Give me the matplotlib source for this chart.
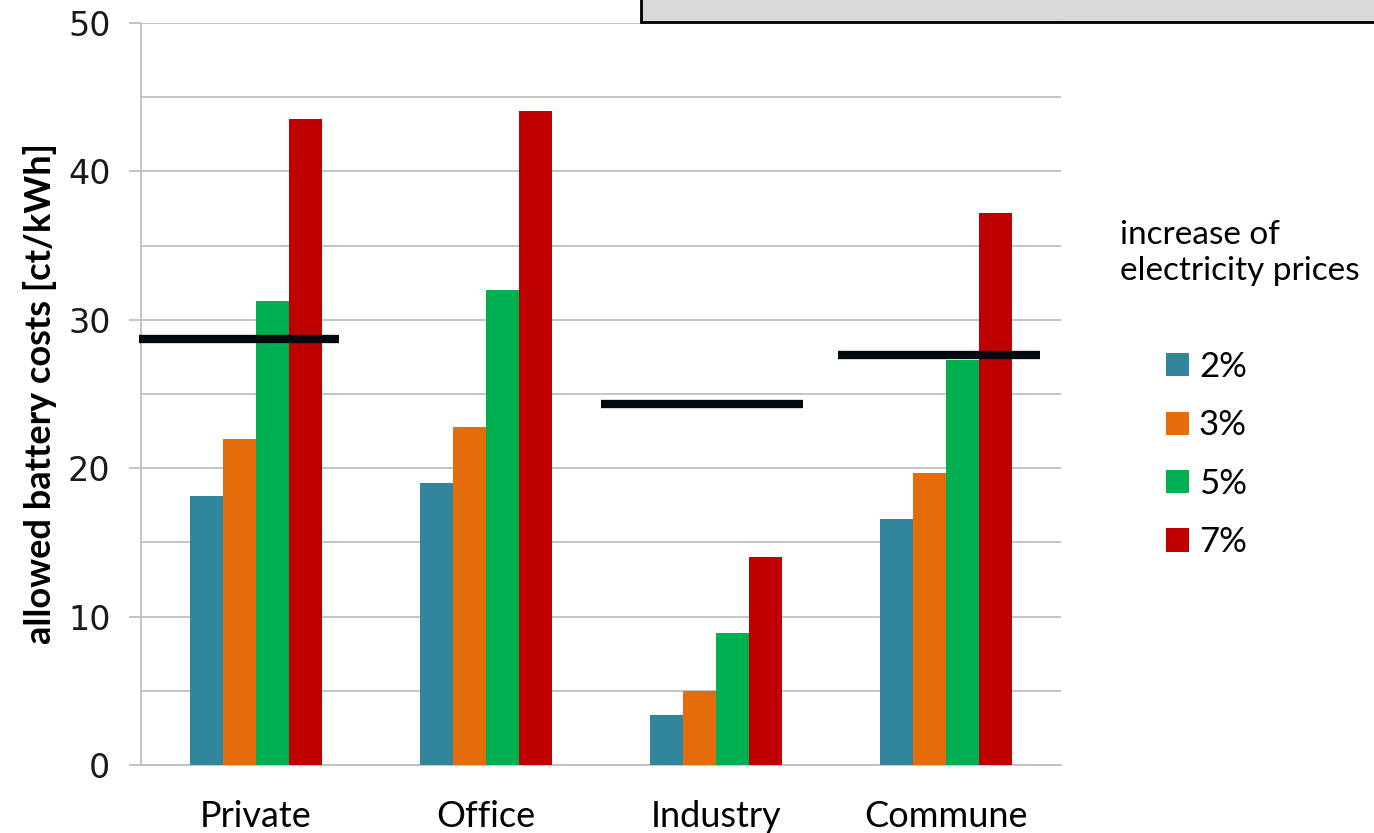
import matplotlib
matplotlib.use("Agg")
import matplotlib.pyplot as plt
from matplotlib.patches import Patch, Rectangle
import numpy as np

categories = ["Private", "Office", "Industry", "Commune"]
series_labels = ["2%", "3%", "5%", "7%"]
values_2 = [18.1, 19.0, 3.4, 16.6]
values_3 = [22.0, 22.8, 5.0, 19.7]
values_5 = [31.3, 32.0, 8.9, 27.3]
values_7 = [43.5, 44.1, 14.0, 37.2]
# reference level (black bars) per category; None where absent
ref_levels = [28.7, None, 24.3, 27.6]
yticks = [0, 10, 20, 30, 40, 50]

colors = ["#31859C", "#E46C0A", "#00B050", "#C00000"]
series = [values_2, values_3, values_5, values_7]

W, H, DPI = 13.74, 8.33, 100
fig = plt.figure(figsize=(W, H), dpi=DPI)
ax = fig.add_axes([141/1374, 1-765/833, (1061-141)/1374, (765-23)/833])

x = np.arange(len(categories))
bw = 0.143
for i, (vals, c) in enumerate(zip(series, colors)):
    ax.bar(x + (i - 1.5) * bw, vals, width=bw, color=c, zorder=3,
           linewidth=0)

grid_c = "#BFBFBF"
ax.set_xlim(-0.5, len(categories) - 0.5)
ax.set_ylim(0, 50)
ax.set_yticks(yticks)
ax.set_yticks([5, 15, 25, 35, 45], minor=True)
ax.grid(axis="y", which="both", color=grid_c, linewidth=1.3, zorder=0)
ax.tick_params(axis="y", which="major", length=9, width=1.3, color=grid_c,
               labelsize=24, pad=13, labelcolor="#1a1a1a")
ax.tick_params(axis="y", which="minor", length=0)
ax.set_xticks(x)
ax.set_xticklabels(categories, fontfamily="Lato", fontsize=26)
ax.tick_params(axis="x", length=0, pad=25, labelcolor="black")
for s in ["top", "right"]:
    ax.spines[s].set_visible(False)
for s in ["left", "bottom"]:
    ax.spines[s].set_color(grid_c)
    ax.spines[s].set_linewidth(1.3)
    ax.spines[s].set_zorder(1)

line_left = [-0.51, 0, -0.50, -0.47]
line_right = [0.36, 0, 0.38, 0.41]
for xi, lvl, l0, l1 in zip(x, ref_levels, line_left, line_right):
    if lvl is not None:
        ax.hlines(lvl, xi + l0, xi + l1, colors="#030a0f",
                  linewidth=6, zorder=5, clip_on=False)

ax.set_ylabel("allowed battery costs [ct/kWh]", fontfamily="Lato",
              fontweight="bold", fontsize=26)
ax.yaxis.set_label_coords(-84/920, 0.5)

# legend
handles = [Patch(facecolor=c, edgecolor="none") for c in colors]
fig.legend(handles, series_labels, loc="upper left",
           bbox_to_anchor=(1166/1374, 1-351/833), frameon=False,
           prop={"family": "Lato", "size": 25}, handlelength=0.65,
           handleheight=0.65, handletextpad=0.3, labelspacing=0.76,
           borderpad=0, borderaxespad=0)
fig.text(1120/1374, 1-220/833, "increase of\nelectricity prices",
         fontfamily="Lato", fontsize=24, ha="left", va="top",
         linespacing=1.25, transform=fig.transFigure)

# gray box at top (clipped)
fig.patches.append(Rectangle((641/1374, 1-22/833), 0.6, 0.1,
                             transform=fig.transFigure, facecolor="#D9D9D9",
                             edgecolor="black", linewidth=2, zorder=10))

fig.savefig("out.png", dpi=DPI)
